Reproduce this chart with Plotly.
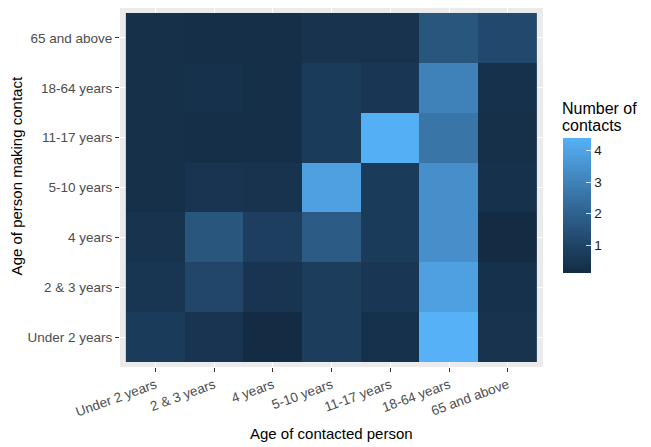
import plotly.graph_objects as go

contacted = ["Under 2 years", "2 & 3 years", "4 years", "5-10 years", "11-17 years", "18-64 years", "65 and above"]
making = ["Under 2 years", "2 & 3 years", "4 years", "5-10 years", "11-17 years", "18-64 years", "65 and above"]

# rows = person making contact (bottom to top), columns = contacted person
row_under2 = [0.70, 0.45, 0.15, 0.75, 0.35, 4.40, 0.40]
row_2and3 = [0.50, 1.10, 0.45, 0.75, 0.55, 3.90, 0.35]
row_4 = [0.40, 1.60, 0.80, 1.80, 0.70, 3.40, 0.12]
row_5to10 = [0.30, 0.45, 0.40, 3.90, 0.70, 3.40, 0.35]
row_11to17 = [0.30, 0.25, 0.25, 0.70, 4.35, 2.60, 0.30]
row_18to64 = [0.30, 0.35, 0.25, 0.70, 0.55, 3.00, 0.35]
row_65plus = [0.30, 0.28, 0.28, 0.40, 0.40, 1.60, 1.20]

z = [row_under2, row_2and3, row_4, row_5to10, row_11to17, row_18to64, row_65plus]

colorscale = [[0.0, "#132B43"], [0.25, "#22496D"], [0.5, "#336A98"], [0.75, "#458DC7"], [1.0, "#56B1F7"]]

fig = go.Figure(go.Heatmap(
    x=contacted, y=making, z=z,
    colorscale=colorscale,
    zmin=min(min(r) for r in z), zmax=max(max(r) for r in z),
    colorbar=dict(
        thickness=28, thicknessmode="pixels",
        len=135, lenmode="pixels",
        x=1.047, xanchor="left", xpad=0, y=0.262, yanchor="bottom", ypad=0,
        outlinewidth=0,
        tickvals=[1, 2, 3, 4],
        ticks="inside", ticklen=5, tickcolor="rgba(255,255,255,0.8)",
        tickfont=dict(size=13.5, color="#1A1A1A"),
    ),
))

fig.update_layout(
    width=651, height=447,
    margin=dict(l=112, r=116, t=0, b=88, autoexpand=False),
    paper_bgcolor="white",
    plot_bgcolor="#EBEBEB",
    font=dict(family="Liberation Sans, Arial, sans-serif"),
    xaxis=dict(
        type="category", categoryorder="array", categoryarray=contacted,
        range=[-0.6, 6.6], showgrid=True, gridcolor="white", gridwidth=1.2,
        zeroline=False, ticks="outside", ticklen=4, tickcolor="#333333",
        tickangle=-20, tickfont=dict(size=13.5, color="#4D4D4D"), automargin=False,
    ),
    yaxis=dict(
        type="category", categoryorder="array", categoryarray=making,
        range=[-0.6, 6.6], showgrid=True, gridcolor="white", gridwidth=1.2,
        zeroline=False, ticks="outside", ticklen=4, tickcolor="#333333",
        tickfont=dict(size=13.5, color="#4D4D4D"), automargin=False,
    ),
    annotations=[
        dict(text="Age of contacted person", xref="paper", yref="paper", x=0.5, y=-0.184,
             xanchor="center", yanchor="middle", showarrow=False, font=dict(size=15, color="#000000")),
        dict(text="Age of person making contact", xref="paper", yref="paper", x=-0.245, y=0.532,
             xanchor="center", yanchor="middle", textangle=-90, showarrow=False,
             font=dict(size=15, color="#000000")),
        dict(text="Number of", xref="paper", yref="paper", x=1.04, y=0.72,
             xanchor="left", yanchor="middle", showarrow=False, font=dict(size=16, color="#000000")),
        dict(text="contacts", xref="paper", yref="paper", x=1.04, y=0.673,
             xanchor="left", yanchor="middle", showarrow=False, font=dict(size=16, color="#000000")),
    ],
)

fig.write_html("out.html")
